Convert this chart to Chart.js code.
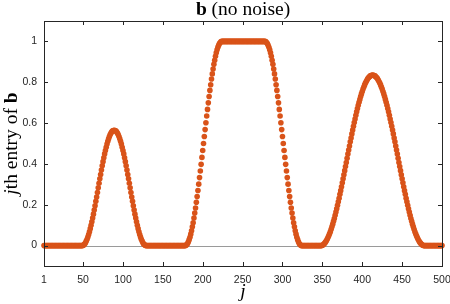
<!DOCTYPE html>
<html>
<head>
<meta charset="utf-8">
<script src="https://cdn.jsdelivr.net/npm/chart.js@4/dist/chart.umd.min.js"></script>
<style>
  html, body { margin: 0; padding: 0; background: #fff; }
  #wrap { width: 450px; height: 304px; }
</style>
</head>
<body>
<div id="wrap"><canvas id="bChart" width="450" height="304"></canvas></div>
<script>
// values of b (j = 1..500)
const flatA = [
  0,0,0,0,0,0,0,0,0,0,0,0, 0,0,0,0,0,0,0,0,0,0,0,0,
  0,0,0,0,0,0,0,0,0,0,0,0, 0,0,0,0,0,0,0,0,0,0,0,0
]; // j 1..48
const bump1 = [
  0,.001,.004,.008,.014,.022,.031,.042,.054,.068,.083,.099,.117,.135,.154,.174,.195,.217,.238,.260,
  .283,.305,.327,.348,.370,.391,.411,.430,.449,.466,.482,.497,.511,.523,.534,.544,.551,.557,.562,.564,
  .565,
  .564,.562,.557,.551,.544,.534,.523,.511,.497,.482,.466,.449,.430,.411,.391,.370,.348,.327,.305,.283,
  .260,.238,.217,.195,.174,.154,.135,.117,.099,.083,.068,.054,.042,.031,.022,.014,.008,.004,.001,0
]; // j 49..129
const flatB = [
  0,0,0,0,0,0,0,0,0,0,0,0, 0,0,0,0,0,0,0,0,0,0,0,0,
  0,0,0,0,0,0,0,0,0,0,0,0, 0,0,0,0,0,0,0,0,0,0,0,0
]; // j 130..177
const plateauRise = [
  0,.001,.005,.010,.019,.029,.041,.056,.073,.092,.112,.135,.159,.184,.212,.240,
  .270,.301,.333,.365,.398,.432,.466,.5,.534,.568,.602,.635,.667,.699,.730,.760,
  .788,.816,.841,.865,.888,.908,.927,.944,.959,.971,.981,.990,.995,.999,1
]; // j 178..224
const plateauTop = [
  1,1,1,1,1,1,1,1,1,1, 1,1,1,1,1,1,1,1,1,1, 1,1,1,1,1,1,1,1,1,1,
  1,1,1,1,1,1,1,1,1,1, 1,1,1,1,1,1,1,1,1,1, 1,1,1
]; // j 225..277
const plateauFall = [
  1,.999,.995,.990,.981,.971,.959,.944,.927,.908,.888,.865,.841,.816,.788,.760,
  .730,.699,.667,.635,.602,.568,.534,.5,.466,.432,.398,.365,.333,.301,.270,.240,
  .212,.184,.159,.135,.112,.092,.073,.056,.041,.029,.019,.010,.005,.001,0
]; // j 278..324
const flatC = [
  0,0,0,0,0,0,0,0,0,0,0,0, 0,0,0,0,0,0,0,0,0,0,0
]; // j 325..347
const bump3 = [
  0,0,.002,.004,.008,.012,.017,.024,.031,.039,.048,.058,.068,.080,.092,.105,.119,.133,.148,.164,
  .180,.197,.215,.232,.251,.269,.288,.308,.327,.347,.367,.387,.407,.428,.448,.468,.488,.508,.527,.547,
  .566,.584,.603,.620,.638,.655,.671,.687,.702,.716,.730,.743,.755,.767,.777,.787,.796,.804,.811,.818,
  .823,.827,.831,.833,.834,
  .835,
  .834,.833,.831,.827,.823,.818,.811,.804,.796,.787,.777,.767,.755,.743,.730,.716,.702,.687,.671,.655,
  .638,.620,.603,.584,.566,.547,.527,.508,.488,.468,.448,.428,.407,.387,.367,.347,.327,.308,.288,.269,
  .251,.232,.215,.197,.180,.164,.148,.133,.119,.105,.092,.080,.068,.058,.048,.039,.031,.024,.017,.012,
  .008,.004,.002,0,0
]; // j 348..478
const flatD = [
  0,0,0,0,0,0,0,0,0,0,0, 0,0,0,0,0,0,0,0,0,0,0
]; // j 479..500

const bValues = [].concat(flatA, bump1, flatB, plateauRise, plateauTop, plateauFall, flatC, bump3, flatD);
const xTickValues = [1, 50, 100, 150, 200, 250, 300, 350, 400, 450, 500];
const yTickValues = [0, 0.2, 0.4, 0.6, 0.8, 1];

const points = bValues.map((v, i) => ({x: i + 1, y: v}));

const SERIF = '"Liberation Serif", "DejaVu Serif", serif';
const SANS = '"Liberation Sans", Arial, sans-serif';
const AXIS_COLOR = '#262626';

// mixed-font text runs (title / axis labels), drawn by hand
function drawRuns(ctx, runs, cx, cy) {
	let total = 0;
	runs.forEach(r => { ctx.font = r.font; r.w = ctx.measureText(r.text).width; total += r.w; });
	let x = cx - total / 2;
	ctx.textBaseline = 'middle';
	ctx.textAlign = 'left';
	runs.forEach(r => { ctx.font = r.font; ctx.fillText(r.text, x, cy); x += r.w; });
}

const matlabAxes = {
	id: 'matlabAxes',
	beforeDatasetsDraw(chart) {
		const {ctx, chartArea: a, scales: {y}} = chart;
		// zero reference line
		const y0 = Math.round(y.getPixelForValue(0)) + 0.5;
		ctx.save();
		ctx.strokeStyle = '#9a9a9a';
		ctx.lineWidth = 1;
		ctx.beginPath();
		ctx.moveTo(a.left, y0);
		ctx.lineTo(a.right, y0);
		ctx.stroke();
		ctx.restore();
	},
	afterDatasetsDraw(chart) {
		const {ctx, chartArea: a, scales: {x, y}} = chart;
		ctx.save();
		ctx.strokeStyle = AXIS_COLOR;
		ctx.lineWidth = 1;
		ctx.strokeRect(Math.round(a.left) + 0.5, Math.round(a.top) + 0.5,
			Math.round(a.right - a.left), Math.round(a.bottom - a.top));
		const tl = 4;
		ctx.beginPath();
		xTickValues.forEach(v => {
			const px = Math.round(x.getPixelForValue(v)) + 0.5;
			ctx.moveTo(px, a.bottom); ctx.lineTo(px, a.bottom - tl);
			ctx.moveTo(px, a.top); ctx.lineTo(px, a.top + tl);
		});
		yTickValues.forEach(v => {
			const py = Math.round(y.getPixelForValue(v)) + 0.5;
			ctx.moveTo(a.left, py); ctx.lineTo(a.left + tl, py);
			ctx.moveTo(a.right, py); ctx.lineTo(a.right - tl, py);
		});
		ctx.stroke();

		ctx.fillStyle = '#000';
		const midX = (a.left + a.right) / 2;
		drawRuns(ctx, [
			{text: 'b', font: 'bold 19.5px ' + SERIF},
			{text: ' (no noise)', font: '19.5px ' + SERIF}
		], midX, 10);
		drawRuns(ctx, [{text: 'j', font: 'italic 19.5px ' + SERIF}], midX, 292);
		ctx.translate(12, (a.top + a.bottom) / 2);
		ctx.rotate(-Math.PI / 2);
		drawRuns(ctx, [
			{text: 'j', font: 'italic 19.5px ' + SERIF},
			{text: 'th entry of ', font: '19.5px ' + SERIF},
			{text: 'b', font: 'bold 19.5px ' + SERIF}
		], 0, 0);
		ctx.restore();
	}
};

new Chart(document.getElementById('bChart'), {
	type: 'scatter',
	data: {
		datasets: [{
			label: 'b',
			data: points,
			backgroundColor: '#D95319',
			borderWidth: 0,
			pointRadius: 2.8,
			clip: false
		}]
	},
	options: {
		responsive: false,
		animation: false,
		layout: {padding: {top: 21, right: 8, left: 0, bottom: 0}},
		plugins: {legend: {display: false}, tooltip: {enabled: false}},
		scales: {
			x: {
				type: 'linear',
				min: 1,
				max: 500,
				grid: {display: false, drawTicks: false},
				border: {display: false},
				afterBuildTicks: s => { s.ticks = xTickValues.map(v => ({value: v})); },
				afterFit: s => { s.height = 38; s.paddingLeft = 0; s.paddingRight = 0; },
				ticks: {color: AXIS_COLOR, font: {family: SANS, size: 10.5}, padding: 8, maxRotation: 0,
					callback: v => String(v)}
			},
			y: {
				min: -0.1,
				max: 1.1,
				grid: {display: false, drawTicks: false},
				border: {display: false},
				afterBuildTicks: s => { s.ticks = yTickValues.map(v => ({value: v})); },
				afterFit: s => { s.width = 44; s.paddingTop = 0; s.paddingBottom = 0; },
				ticks: {color: AXIS_COLOR, font: {family: SANS, size: 10.5}, padding: 7,
					callback: v => String(v)}
			}
		}
	},
	plugins: [matlabAxes]
});
</script>
</body>
</html>
